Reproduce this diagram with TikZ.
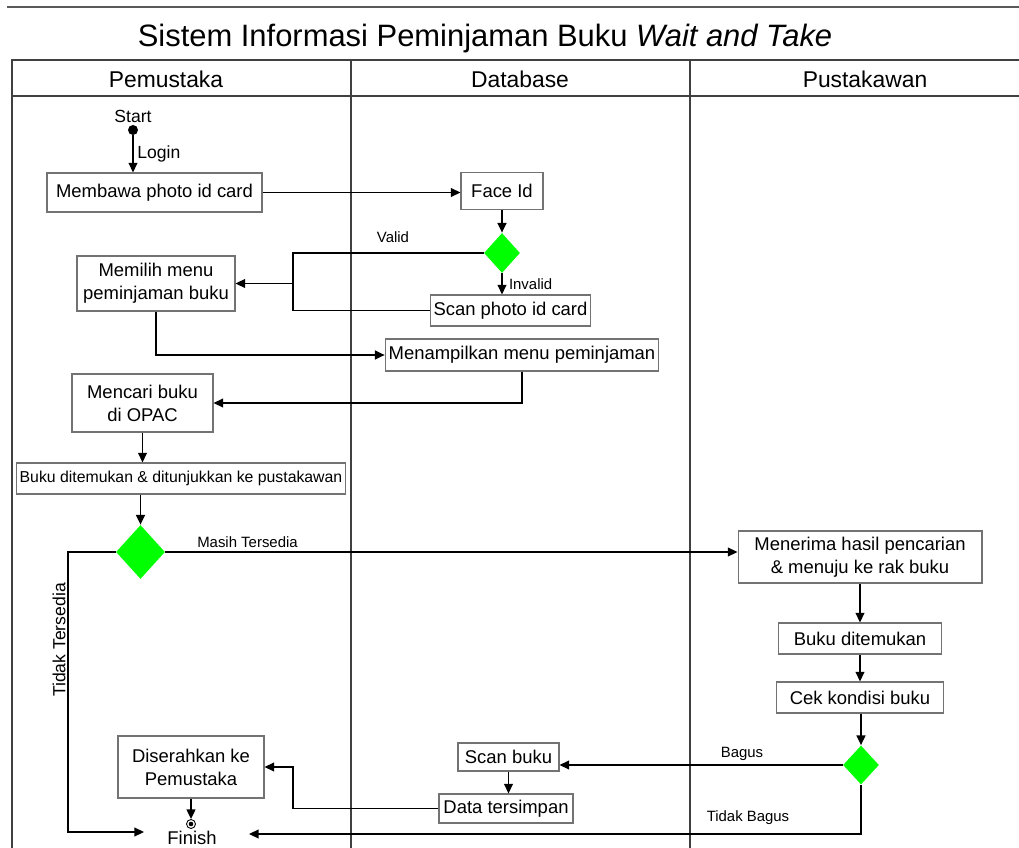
\documentclass[tikz,border=0pt]{standalone}
\usepackage{fontspec}
\setmainfont{Liberation Sans}
\usepackage{xcolor}
\usepackage{tikz}
\usetikzlibrary{shapes,arrows.meta}

\begin{document}
\begin{tikzpicture}[x=0.02cm,y=-0.02cm,
  kotak/.style={draw=black!55,line width=0.6pt,inner sep=2pt,align=center,font=\fontsize{10.5}{13}\selectfont},
  belah/.style={diamond,fill=green,inner sep=0pt},
  panah/.style={line width=1pt,-{Triangle[length=5.5pt,width=5pt]}},
  garis/.style={line width=1pt},
  ket/.style={font=\fontsize{8.5}{10}\selectfont},
  jalur/.style={draw=black!75,line width=0.8pt},
  kepala/.style={font=\fontsize{13}{15}\selectfont}]
\useasboundingbox (0,0) rectangle (1019,848);

\draw[black!65,line width=0.7pt] (7,7) -- (1019,7);
\node[font=\fontsize{17.6}{20}\selectfont] (judul) at (485,39) {Sistem Informasi Peminjaman Buku \textit{Wait and Take}};
\draw[jalur] (12,848) -- (12,60) -- (1019,60) (12,96) -- (1019,96) (351,60) -- (351,848) (690,60) -- (690,848);
\node[kepala] (pemustaka) at (166,79) {Pemustaka};
\node[kepala] (database) at (520,79) {Database};
\node[kepala] (pustakawan) at (865,79) {Pustakawan};

\node[circle,fill,inner sep=0pt,minimum size=0.2cm] (start) at (133,130) {};
\node[font=\fontsize{10}{12}\selectfont] (lblstart) at (133,116) {Start};
\node[kotak,minimum width=4.3cm,minimum height=0.78cm] (membawa) at (154.5,192.5) {Membawa photo id card};
\draw[panah] (start) -- (start |- membawa.north) node[midway,right,font=\fontsize{10}{12}\selectfont,inner sep=2pt] {Login};
\node[kotak,minimum width=1.64cm,minimum height=0.74cm] (faceid) at (502,191) {Face Id};
\draw[panah] (membawa.east) -- (membawa.east -| faceid.west);
\node[belah,minimum width=0.72cm,minimum height=0.8cm] (cek1) at (502,253) {};
\draw[panah] (faceid) -- (cek1);
\node[kotak,minimum width=3.16cm,minimum height=1.1cm] (memilih) at (156,283.5) {Memilih menu\\peminjaman buku};
\node[kotak,minimum width=3.18cm,minimum height=0.62cm] (scanid) at (510.5,310.5) {Scan photo id card};
\draw[panah] (cek1) -- (cek1 |- scanid.north) node[midway,right,ket,inner sep=3.5pt] {Invalid};
\coordinate (simpang) at (293,283.5);
\draw[garis] (cek1.west) -| (simpang) |- (scanid.west);
\draw[panah] (simpang) -- (memilih.east);
\node[ket] (lblvalid) at (393,237) {Valid};

\node[kotak,minimum width=5.4cm,minimum height=0.64cm] (tampil) at (522,355) {Menampilkan menu peminjaman};
\draw[panah] (memilih.south) |- (tampil.west);
\node[kotak,minimum width=2.82cm,minimum height=1.16cm] (cari) at (142.5,403) {Mencari buku\\di OPAC};
\draw[panah] (tampil.south) |- (cari.east);
\node[kotak,font=\fontsize{9}{11}\selectfont,minimum width=6.48cm,minimum height=0.62cm] (ketemu) at (181,478.5) {Buku ditemukan \& ditunjukkan ke pustakawan};
\draw[panah] (cari.south) -- (cari.south |- ketemu.north);
\node[belah,minimum width=0.98cm,minimum height=1.08cm] (cek2) at (140.5,552) {};
\draw[panah] (ketemu.south -| cek2) -- (cek2.north);

\node[kotak,minimum width=4.88cm,minimum height=1.04cm] (terima) at (860,557) {Menerima hasil pencarian\\\& menuju ke rak buku};
\draw[panah] (cek2.east) -- (cek2.east -| terima.west);
\node[ket] (lblmasih) at (247.5,542) {Masih Tersedia};
\node[kotak,minimum width=3.26cm,minimum height=0.62cm] (temu) at (860,638.5) {Buku ditemukan};
\draw[panah] (terima) -- (temu);
\node[kotak,minimum width=3.34cm,minimum height=0.62cm] (kondisi) at (860,697.5) {Cek kondisi buku};
\draw[panah] (temu) -- (kondisi);
\node[belah,minimum width=0.72cm,minimum height=0.78cm] (cek3) at (861,765) {};
\draw[panah] (kondisi.south -| cek3) -- (cek3.north);

\node[kotak,minimum width=2.02cm,minimum height=0.56cm] (scanbuku) at (508.5,757) {Scan buku};
\draw[panah] (cek3.west) -- (cek3.west -| scanbuku.east);
\node[ket] (lblbagus) at (742,754) {Bagus};
\node[kotak,minimum width=2.68cm,minimum height=0.58cm] (simpan) at (506,808.5) {Data tersimpan};
\draw[panah] (scanbuku) -- (scanbuku |- simpan.north);
\node[kotak,minimum width=2.92cm,minimum height=1.24cm] (serah) at (191,767) {Diserahkan ke\\Pemustaka};
\coordinate (belok) at (293,767);
\draw[panah] (simpan.west) -| (belok) -- (serah.east);

\node[circle,draw,line width=0.5pt,inner sep=0pt,minimum size=0.18cm] (fin) at (191,824) {};
\fill (fin.center) circle (1.3pt);
\draw[panah] (serah.south) -- (fin.north);
\node[font=\fontsize{10.5}{12}\selectfont] (selesai) at (192,838) {Finish};
\coordinate (sudut) at (68,832);
\coordinate (fkiri) at (144,832);
\coordinate (fkanan) at (249,834);
\draw[panah] (cek2.west) -| (sudut) -- (fkiri);
\node[font=\fontsize{10}{12}\selectfont,rotate=90] (lbltidak) at (59,640) {Tidak Tersedia};
\draw[panah] (cek3.south) |- (fkanan);
\node[ket] (lbltb) at (748,818) {Tidak Bagus};
\end{tikzpicture}
\end{document}
